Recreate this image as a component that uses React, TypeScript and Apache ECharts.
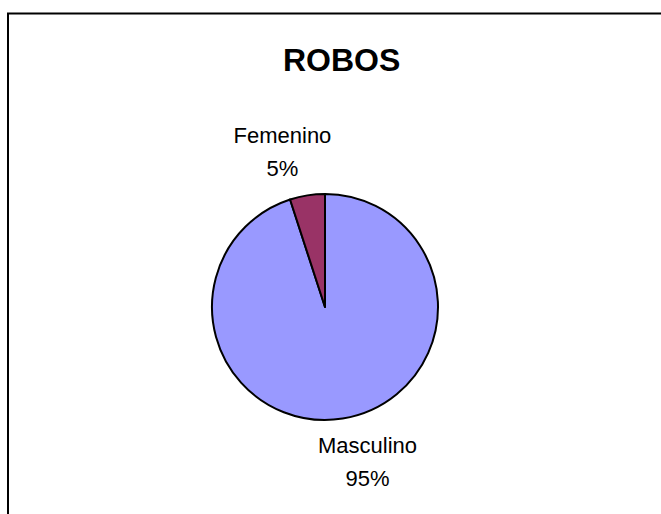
import React, { useEffect, useRef } from "react";
import * as echarts from "echarts";

const titleText = "ROBOS";
const categories = ["Masculino", "Femenino"];
const values = [95, 5];
const colors = ["#9999FF", "#993366"];

export default function App() {
  const ref = useRef<HTMLDivElement>(null);
  useEffect(() => {
    if (!ref.current) return;
    const chart = echarts.init(ref.current, null, { renderer: "svg" });
    const narrow = "'Liberation Sans Narrow', 'Arial Narrow', 'Liberation Sans', Arial, sans-serif";
    chart.setOption({
      animation: false,
      backgroundColor: "#ffffff",
      title: {
        text: titleText,
        left: 283,
        top: 44,
        padding: 0,
        textStyle: {
          fontFamily: "'Liberation Sans', Arial, sans-serif",
          fontWeight: "bold",
          fontSize: 32,
          color: "#000",
        },
      },
      graphic: [
        {
          type: "rect",
          shape: { x: 8, y: 13.5, width: 720, height: 620 },
          style: { fill: "none", stroke: "#000", lineWidth: 2 },
          silent: true,
        },
      ],
      series: [
        {
          type: "pie",
          center: [325, 307],
          radius: 113,
          startAngle: 90,
          clockwise: true,
          avoidLabelOverlap: false,
          data: categories.map((c, i) => ({
            name: c,
            value: values[i],
            itemStyle: { color: colors[i] },
          })),
          itemStyle: { borderColor: "#000", borderWidth: 2 },
          label: {
            show: true,
            position: "outside",
            formatter: (p: any) => `${p.name}\n${Math.round(p.percent)}%`,
            fontFamily: narrow,
            fontSize: 22,
            lineHeight: 33,
            color: "#000",
          },
          labelLine: { show: false, length: 44, length2: 13 },
          labelLayout: { align: "center" },
          emphasis: { disabled: true },
        },
      ],
    });
    return () => chart.dispose();
  }, []);
  return (
    <div
      ref={ref}
      style={{ position: "fixed", left: 0, top: 0, width: 661, height: 514 }}
    />
  );
}
